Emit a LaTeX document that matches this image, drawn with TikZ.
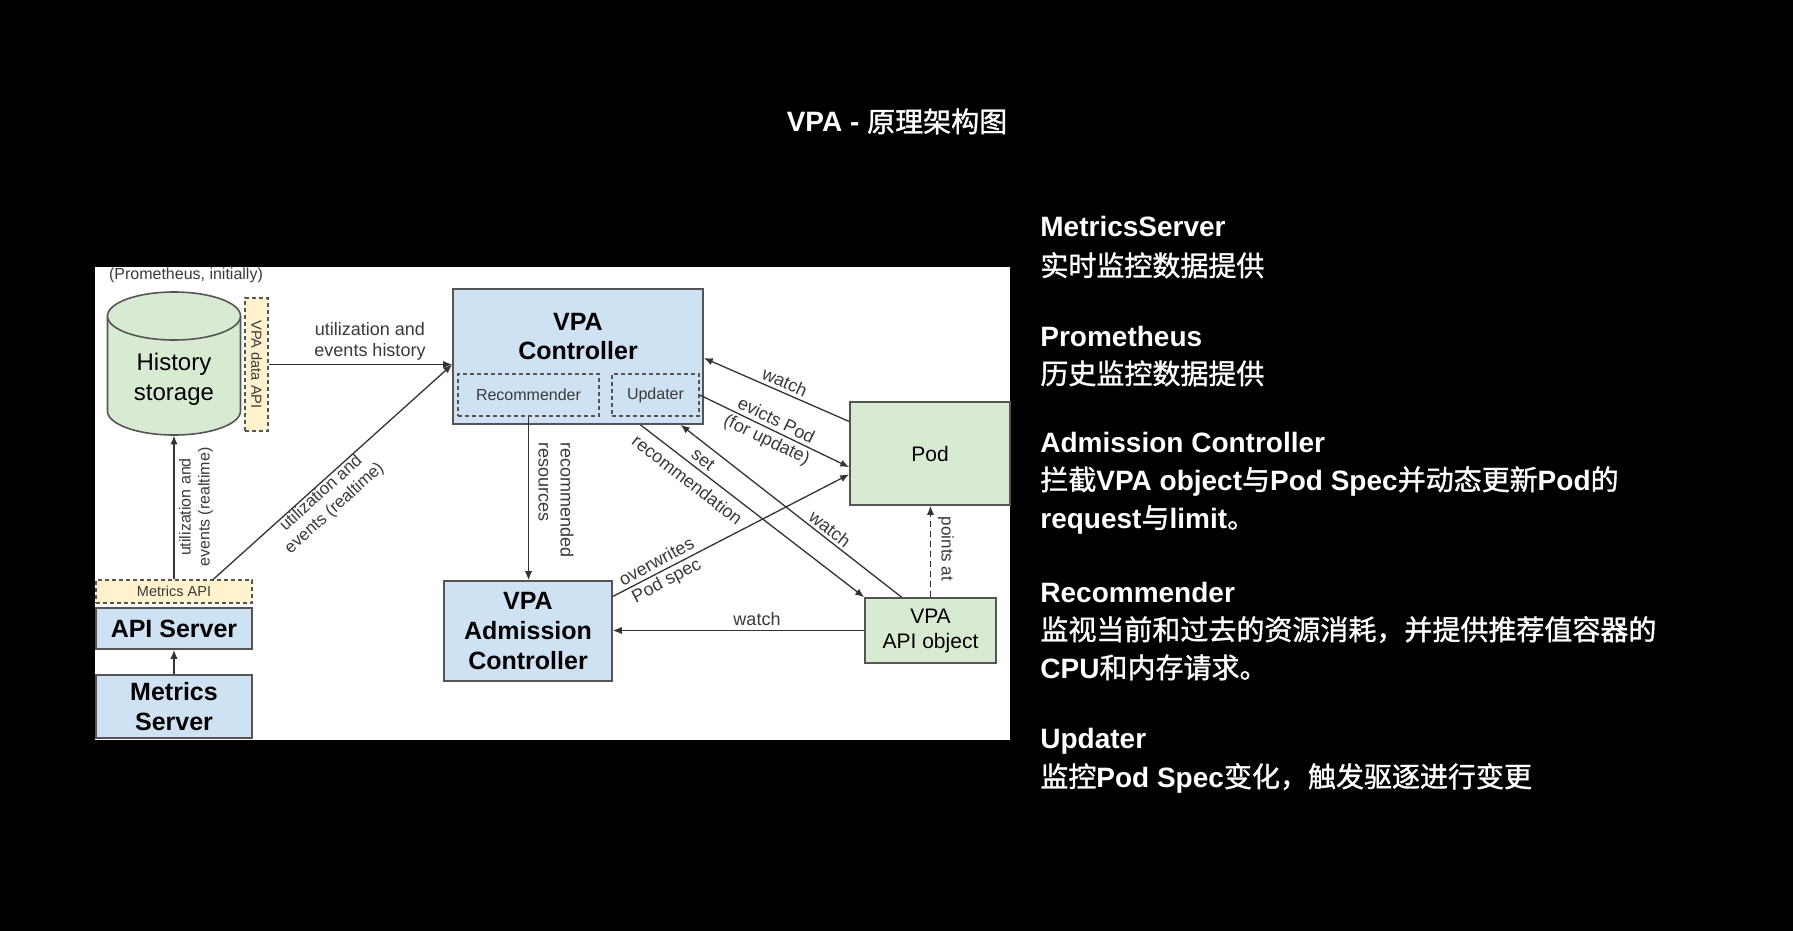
\documentclass[tikz,border=0pt]{standalone}
\usepackage{fontspec}
\setmainfont{Liberation Sans}
\newfontfamily\cjk[FakeBold=1.2]{Noto Sans CJK SC}
\usetikzlibrary{arrows.meta,calc}
\definecolor{bluef}{HTML}{CFE2F3}
\definecolor{greenf}{HTML}{D9EAD3}
\definecolor{yellowf}{HTML}{FFF2CC}
\definecolor{edgec}{HTML}{555555}
\definecolor{lblc}{HTML}{3A3A3A}
\definecolor{linec}{HTML}{333333}
\def\u{0.5pt}
\newcommand\zhtxt[1]{{\cjk\mdseries #1}}
\tikzset{
 box/.style={draw=edgec, line width=0.8pt, inner sep=0pt, align=center, text=black},
 bluebox/.style={box, fill=bluef},
 greenbox/.style={box, fill=greenf},
 apibox/.style={draw=edgec, dash pattern=on 2pt off 1.5pt, line width=0.7pt, fill=yellowf, inner sep=0pt, text=lblc},
 subbox/.style={draw=edgec, dash pattern=on 2pt off 1.5pt, line width=0.7pt, inner sep=0pt, text=lblc},
 conn/.style={draw=linec, line width=0.65pt, -{Latex[length=4.5pt,width=3.6pt]}},
 lab/.style={text=lblc, font=\fontsize{9}{10.5}\selectfont, align=center, inner sep=0pt},
 bigb/.style={font=\fontsize{12.5}{14.5}\selectfont\bfseries},
 rt/.style={anchor=base west, text=white, inner sep=0pt, font=\fontsize{14}{17}\selectfont\bfseries},
}
\begin{document}
\begin{tikzpicture}[x=0.5pt,y={(0pt,-0.5pt)}]
\fill[black] (0,0) rectangle (1793,931);
\useasboundingbox (0,0) rectangle (1793,931);

% title
\node[anchor=base, text=white, inner sep=0pt, font=\fontsize{14}{17}\selectfont\bfseries] (title) at (897,132) {VPA - \zhtxt{原理架构图}};

% panel
\node[fill=white, minimum width=915*\u, minimum height=473*\u, inner sep=0pt] (panel) at (552.5,503.5) {};

% history storage cylinder
\path[fill=greenf] (107.5,316) -- (107.5,411) arc[start angle=180, end angle=0, x radius=66.5, y radius=24] -- (240.5,316) -- cycle;
\draw[draw=edgec, line width=0.8pt] (107.5,316) -- (107.5,411) arc[start angle=180, end angle=0, x radius=66.5, y radius=24] -- (240.5,316);
\draw[draw=edgec, line width=0.8pt, fill=greenf] (174,316) ellipse[x radius=66.5, y radius=24];
\node[inner sep=0pt, minimum width=133*\u, minimum height=143*\u] (hist) at (174,363.5) {};
\node[inner sep=0pt, align=center, font=\fontsize{12}{15}\selectfont] (histt) at (174,379) {History\\storage};
\node[lab, font=\fontsize{8}{9.6}\selectfont] (prom) at (186,275) {(Prometheus, initially)};

% VPA data API
\node[apibox, minimum width=23*\u, minimum height=133*\u] (vda) at (256.5,364.5) {};
\node[inner sep=0pt, rotate=-90, text=lblc, font=\fontsize{7.3}{8.5}\selectfont] (vdat) at (vda.center) {VPA data API};

% VPA controller
\node[bluebox, minimum width=250*\u, minimum height=135*\u] (vpac) at (578,356.5) {};
\node[bigb, align=center, inner sep=0pt] (vpact) at (578,336.5) {VPA\\Controller};
\node[subbox, minimum width=141*\u, minimum height=42*\u, font=\fontsize{8}{9.6}\selectfont] (rec) at (528.5,395) {Recommender};
\node[subbox, minimum width=87*\u, minimum height=42*\u, font=\fontsize{8}{9.6}\selectfont] (upd) at (655.5,395) {Updater};

% Pod and VPA API object
\node[greenbox, minimum width=160*\u, minimum height=103*\u, font=\fontsize{10.5}{12.5}\selectfont] (pod) at (930,453.5) {Pod};
\node[greenbox, minimum width=131*\u, minimum height=65*\u, font=\fontsize{10.5}{12.5}\selectfont] (vpaobj) at (930.5,630.5) {VPA\\API object};

% Admission controller
\node[bluebox, font=\fontsize{12.5}{15}\selectfont\bfseries, minimum width=168*\u, minimum height=100*\u] (adm) at (528,631) {VPA\\Admission\\Controller};

% API server, metrics
\node[apibox, minimum width=156*\u, minimum height=23*\u, font=\fontsize{7.25}{8}\selectfont] (mapi) at (174,591.5) {Metrics API};
\node[bluebox, bigb, minimum width=156*\u, minimum height=41*\u] (apis) at (174,628.5) {API Server};
\node[bluebox, font=\fontsize{12.5}{15}\selectfont\bfseries, minimum width=156*\u, minimum height=63*\u] (ms) at (174,706.5) {Metrics\\Server};

% connectors
\draw[conn] (vda.east) -- (vda.east -| vpac.west);
\draw[conn] ($(mapi.north west)!0.75!(mapi.north east)$) -- (vda.east -| vpac.west);
\draw[conn] (mapi.north) -- (hist.south);
\draw[conn] (ms.north) -- (apis.south);
\draw[conn] (rec.south) -- (rec.south |- adm.north);
\draw[conn] ($(pod.north west)!0.194!(pod.south west)$) -- ($(vpac.north east)!0.511!(vpac.south east)$);
\draw[conn] (upd.east) -- ($(pod.north west)!0.631!(pod.south west)$);
\draw[conn] ($(vpac.south west)!0.748!(vpac.south east)$) -- (vpaobj.north west);
\draw[conn] ($(vpaobj.north west)!0.282!(vpaobj.north east)$) -- ($(vpac.south west)!0.908!(vpac.south east)$);
\draw[conn] ($(adm.north east)!0.16!(adm.south east)$) -- ($(pod.north west)!0.699!(pod.south west)$);
\draw[conn, dash pattern=on 3pt off 2pt] (vpaobj.north) -- (vpaobj.north |- pod.south);
\draw[conn] (vpaobj.west) -- (vpaobj.west -| adm.east);

% connector labels
\node[lab] (l1) at (370,341) {utilization and\\events history};
\node[lab, font=\fontsize{8}{9.5}\selectfont, rotate=90] (l2) at (196,507) {utilization and\\events (realtime)};
\node[lab, font=\fontsize{8.5}{10}\selectfont, rotate=42] (l3) at (328,501) {utilization and\\events (realtime)};
\node[lab, rotate=-90, align=left, font=\fontsize{9}{11}\selectfont] (l4) at (556,500) {recommended\\resources};
\node[lab, rotate=-24] (l5) at (785,382) {watch};
\node[lab, rotate=-26] (l6) at (771,431) {evicts Pod\\(for update)};
\node[lab, rotate=-38, font=\fontsize{9}{13}\selectfont] (l7) at (695,470) {set\\recommendation};
\node[lab, rotate=-38] (l8) at (830,529) {watch};
\node[lab, rotate=28] (l9) at (662,572) {overwrites\\Pod spec};
\node[lab, rotate=-90, font=\fontsize{8.5}{10}\selectfont] (l10) at (946,549) {points at};
\node[lab] (l11) at (757,619) {watch};

% right-hand text
\node[rt] (h1) at (1040,236) {MetricsServer};
\node[rt] (b1) at (1040,276) {\zhtxt{实时监控数据提供}};
\node[rt] (h2) at (1040,346) {Prometheus};
\node[rt] (b2) at (1040,384) {\zhtxt{历史监控数据提供}};
\node[rt] (h3) at (1040,452) {Admission Controller};
\node[rt] (b3) at (1040,490) {\zhtxt{拦截}VPA object\zhtxt{与}Pod Spec\zhtxt{并动态更新}Pod\zhtxt{的}};
\node[rt] (b3b) at (1040,528) {request\zhtxt{与}limit\zhtxt{。}};
\node[rt] (h4) at (1040,602) {Recommender};
\node[rt] (b4) at (1040,640) {\zhtxt{监视当前和过去的资源消耗，并提供推荐值容器的}};
\node[rt] (b4b) at (1040,678) {CPU\zhtxt{和内存请求。}};
\node[rt] (h5) at (1040,748) {Updater};
\node[rt] (b5) at (1040,787) {\zhtxt{监控}Pod Spec\zhtxt{变化，触发驱逐进行变更}};
\end{tikzpicture}
\end{document}
